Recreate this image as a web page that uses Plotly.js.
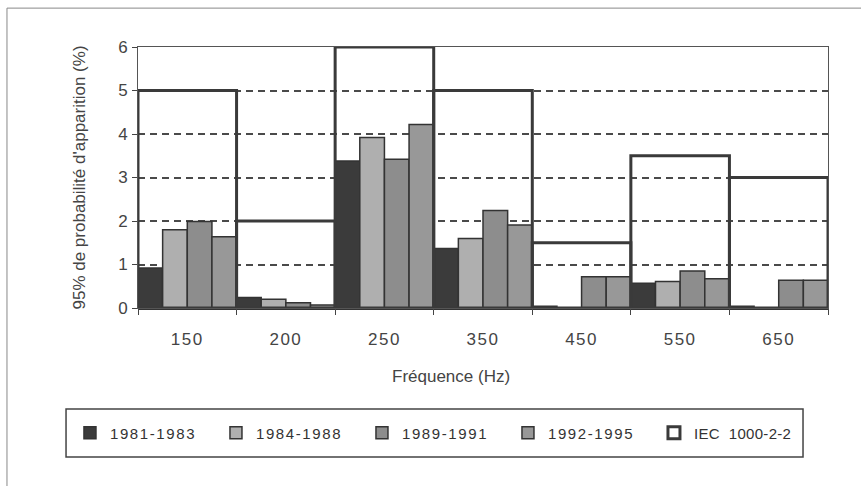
<!DOCTYPE html>
<html>
<head>
<meta charset="utf-8">
<script src="https://cdn.plot.ly/plotly-3.0.1.min.js"></script>
<style>
html,body{margin:0;padding:0;background:#fff;}
#chart{width:861px;height:486px;}
.legendtext{letter-spacing:1.6px;}
.legend .traces:last-child .legendtext{letter-spacing:0.3px;}
.xtick text{letter-spacing:1.5px;}
</style>
</head>
<body>
<div id="chart"></div>
<script>
// Data
var categories = ['150','200','250','350','450','550','650'];
var s1981 = [0.92, 0.24, 3.38, 1.37, 0.04, 0.57, 0.04];
var s1984 = [1.80, 0.20, 3.92, 1.60, 0.00, 0.61, 0.00];
var s1989 = [1.99, 0.12, 3.42, 2.24, 0.72, 0.85, 0.64];
var s1992 = [1.64, 0.07, 4.22, 1.91, 0.72, 0.67, 0.64];
var iec   = [5, 2, 6, 5, 1.5, 3.5, 3];
var seriesNames = ['1981-1983','1984-1988','1989-1991','1992-1995','IEC  1000-2-2'];
var yTicks = [0,1,2,3,4,5,6];

var colors = ['#3b3b3b','#afafaf','#8d8d8d','#989898'];
var edge = '#333333';
var series = [s1981, s1984, s1989, s1992];

var traces = series.map(function(vals, i){
  return {
    type:'bar', x:categories, y:vals, name:seriesNames[i],
    marker:{color:colors[i], line:{color:edge, width:1.5}}
  };
});
traces.push({
  type:'bar', x:categories, y:iec, name:seriesNames[4],
  offset:-0.5, width:1,
  marker:{color:'rgba(0,0,0,0)', line:{color:'#3a3a3a', width:3}}
});

var fnt = 'Liberation Sans, Arial, sans-serif';
var layout = {
  width:861, height:486,
  margin:{l:138, r:33, t:47, b:178},
  paper_bgcolor:'#ffffff', plot_bgcolor:'#ffffff',
  barmode:'group', bargap:0, bargroupgap:0,
  font:{family:fnt, color:'#444', size:16},
  showlegend:true,
  legend:{
    orientation:'h', x:-0.0986, xanchor:'left', y:-0.479, yanchor:'middle',
    font:{family:fnt, size:15, color:'#333'},
    bgcolor:'rgba(0,0,0,0)', borderwidth:0,
    entrywidth:101, entrywidthmode:'pixels',
    traceorder:'normal'
  },
  xaxis:{
    type:'category', categoryorder:'array', categoryarray:categories,
    tickson:'boundaries', ticks:'outside', ticklen:6, tickcolor:'#444', tickwidth:1,
    ticklabelstandoff:16,
    showline:true, mirror:true, linecolor:'#555', linewidth:1,
    showgrid:false,
    tickfont:{family:fnt, size:17, color:'#444'}
  },
  yaxis:{
    range:[0,6], tickvals:yTicks, ticktext:yTicks.map(String),
    ticks:'outside', ticklen:5, tickcolor:'#444', tickwidth:1,
    ticklabelstandoff:1,
    showline:true, mirror:true, linecolor:'#555', linewidth:1,
    showgrid:true, gridcolor:'#4a4a4a', gridwidth:2, griddash:'7px,5px',
    zeroline:true, zerolinecolor:'#333', zerolinewidth:3,
    tickfont:{family:fnt, size:17, color:'#444'},
    title:{text:"95% de probabilité d'apparition (%)", font:{family:fnt, size:17, color:'#444'}, standoff:28}
  },
  annotations:[
    {text:'Fréquence (Hz)', xref:'paper', yref:'paper', x:0.4536, y:-0.261,
     xanchor:'center', yanchor:'middle', showarrow:false,
     font:{family:fnt, size:17, color:'#444'}}
  ],
  shapes:[
    {type:'rect', xref:'paper', yref:'paper', x0:-0.1043, x1:0.9638, y0:-0.5709, y1:-0.387,
     line:{color:'#444', width:1.5}, fillcolor:'rgba(0,0,0,0)', layer:'above'},
    {type:'line', xref:'paper', yref:'paper', x0:-0.1899, x1:1.1, y0:1.149, y1:1.149,
     line:{color:'#888', width:1}},
    {type:'line', xref:'paper', yref:'paper', x0:-0.1899, x1:-0.1899, y0:1.149, y1:-0.75,
     line:{color:'#888', width:1}}
  ]
};

Plotly.newPlot('chart', traces, layout, {staticPlot:true, displayModeBar:false});
</script>
</body>
</html>
